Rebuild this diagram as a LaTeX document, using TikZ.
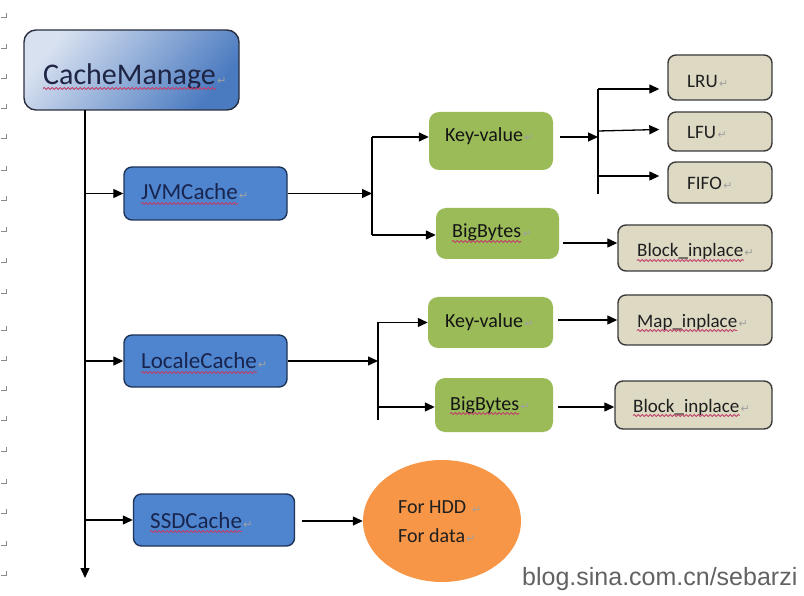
\documentclass[tikz,border=0pt]{standalone}
\usepackage{fontspec}
\setmainfont{Carlito}
\newfontfamily\wmfont{Liberation Sans}
\newfontfamily\symfont{DejaVu Sans}
\usetikzlibrary{arrows.meta,decorations.pathmorphing,shapes.geometric}
\definecolor{cmtop}{HTML}{D8E1F0}
\definecolor{cmbot}{HTML}{4A7AC0}
\definecolor{cmline}{HTML}{2A2F40}
\definecolor{cmtext}{HTML}{1E2444}
\definecolor{bluef}{HTML}{4F84CF}
\definecolor{bluel}{HTML}{1F3458}
\definecolor{bluet}{HTML}{18254F}
\definecolor{greenf}{HTML}{9BBB59}
\definecolor{tanf}{HTML}{DDD9C3}
\definecolor{tanl}{HTML}{3A3A3A}
\definecolor{orangef}{HTML}{F79646}
\definecolor{squigc}{HTML}{C0406A}
\definecolor{retc}{HTML}{A0A0A0}
\definecolor{margc}{HTML}{8A8A8A}
\definecolor{wmc}{HTML}{626262}
\newcommand\plainlbl[4]{\node[txt,#3] (#1) at (#2) {#4};
  \node[retm] (#1r) at ([xshift=1pt]#1.base east) {↵};}
\newcommand\squiglbl[4]{\plainlbl{#1}{#2}{#3}{#4}%
  \draw[squig] ([yshift=-3.5pt]#1.base west) -- ([yshift=-3.5pt]#1.base east);}
\begin{document}
\begin{tikzpicture}[x=1pt,y=-1pt,
  cmbox/.style={draw=cmline, line width=1.4pt, rounded corners=12pt, top color=cmtop, bottom color=cmbot, shading angle=50},
  bluebox/.style={draw=bluel, line width=1.4pt, fill=bluef, rounded corners=8pt},
  greenbox/.style={fill=greenf, rounded corners=10pt},
  tanbox/.style={draw=tanl, line width=1.4pt, fill=tanf, rounded corners=8pt},
  conn/.style={line width=1.3pt, -{Triangle[length=10pt,width=9pt]}},
  plain/.style={line width=1.3pt},
  txt/.style={anchor=base west, inner sep=0pt},
  bluetxt/.style={text=bluet, font=\fontsize{23}{27}\selectfont},
  greentxt/.style={text=black!92, font=\fontsize{20}{24}\selectfont},
  tantxt/.style={text=black!88, font=\fontsize{19}{23}\selectfont},
  orgtxt/.style={text=black!88, font=\fontsize{20}{24}\selectfont},
  squig/.style={draw=squigc, line width=0.8pt, decorate, decoration={snake, amplitude=1.1pt, segment length=4pt}},
  retm/.style={anchor=base west, inner sep=0pt, text=retc, font=\symfont\fontsize{11}{12}\selectfont},
  marg/.style={draw=margc, line width=0.8pt}
]
\useasboundingbox (0,0) rectangle (804,596);
% margin marks
\foreach \yy in {17,48,78,108,138,170,200,231,262,293,330,360,390,420,451,483,513,545,575}
  \draw[marg] (1,\yy) -- (6,\yy) -- (6,\yy-4);

% boxes
\node[cmbox, minimum width=215pt, minimum height=80pt] (cm) at (131.5,70) {};
\node[bluebox, minimum width=163pt, minimum height=53pt] (jvm) at (205.5,193.5) {};
\node[bluebox, minimum width=163pt, minimum height=52pt] (loc) at (205.5,361) {};
\node[bluebox, minimum width=161pt, minimum height=52pt] (ssd) at (214,520) {};
\node[greenbox, minimum width=124pt, minimum height=58pt] (kv1) at (491,141) {};
\node[greenbox, minimum width=123pt, minimum height=51pt] (bb1) at (497.5,233.5) {};
\node[greenbox, minimum width=125pt, minimum height=51pt] (kv2) at (490.5,322.5) {};
\node[greenbox, minimum width=118pt, minimum height=54pt] (bb2) at (494,405) {};
\node[tanbox, minimum width=104pt, minimum height=45pt] (lru) at (720,77.5) {};
\node[tanbox, minimum width=104pt, minimum height=39pt] (lfu) at (720,131.5) {};
\node[tanbox, minimum width=104pt, minimum height=41pt] (fifo) at (720,182.5) {};
\node[tanbox, minimum width=154pt, minimum height=46pt] (blk1) at (695,248) {};
\node[tanbox, minimum width=154pt, minimum height=50pt] (map) at (695,320) {};
\node[tanbox, minimum width=157pt, minimum height=48pt] (blk2) at (693.5,405) {};
\node[ellipse, fill=orangef, inner sep=0pt, minimum width=158pt, minimum height=122pt] (hdd) at (442,521) {};

% labels
\squiglbl{cmt}{43,85}{text=cmtext, font=\fontsize{30}{36}\selectfont}{CacheManage}
\squiglbl{jvmt}{141,200}{bluetxt}{JVMCache}
\squiglbl{loct}{141,369}{bluetxt}{LocaleCache}
\squiglbl{ssdt}{150,528}{bluetxt}{SSDCache}
\plainlbl{kv1t}{445,142}{greentxt}{Key-value}
\squiglbl{bb1t}{452,238}{greentxt}{BigBytes}
\plainlbl{kv2t}{445,327}{greentxt}{Key-value}
\squiglbl{bb2t}{450,410}{greentxt}{BigBytes}
\plainlbl{lrut}{687,88}{tantxt}{LRU}
\plainlbl{lfut}{687,139}{tantxt}{LFU}
\plainlbl{fifot}{687,190}{tantxt}{FIFO}
\squiglbl{blk1t}{637,257}{tantxt}{Block\_inplace}
\squiglbl{mapt}{637,327}{tantxt}{Map\_inplace}
\squiglbl{blk2t}{633,412}{tantxt}{Block\_inplace}
\plainlbl{hdd1}{398,513}{orgtxt}{For HDD\ \ }
\plainlbl{hdd2}{398,542}{orgtxt}{For data}

% main trunk
\coordinate (vtop) at (85,110);
\coordinate (vbot) at (85,578);
\draw[conn] (vtop) -- (vbot);
\coordinate (b1) at (85,193.5);
\coordinate (b2) at (85,361);
\coordinate (b3) at (85,520);
\draw[conn] (b1) -- (b1 -| jvm.west);
\draw[conn] (b2) -- (b2 -| loc.west);
\draw[conn] (b3) -- (b3 -| ssd.west);

% JVMCache branch
\coordinate (j1) at (372,193.5);
\coordinate (j1t) at (372,137);
\coordinate (j1b) at (372,235);
\draw[conn] (jvm.east) -- (j1);
\draw[plain] (j1t) -- (j1b);
\draw[conn] (j1t) -- (j1t -| kv1.west);
\draw[conn] (j1b) -- (j1b -| bb1.west);
\coordinate (a0) at (560,137);
\coordinate (j2) at (598,137);
\coordinate (j2t) at (598,89);
\coordinate (j2m) at (598,131);
\coordinate (j2f) at (598,176);
\coordinate (j2b) at (598,194);
\draw[conn] (a0) -- (j2);
\draw[plain] (j2t) -- (j2b);
\draw[conn, shorten >=8pt] (j2t) -- (j2t -| lru.west);
\draw[conn] (j2m) -- ([xshift=-8pt]lfu.west |- 0,129.5);
\draw[conn, shorten >=8pt] (j2f) -- (j2f -| fifo.west);
\coordinate (a1) at (563,243);
\draw[conn] (a1) -- (a1 -| blk1.west);

% LocaleCache branch
\coordinate (j3) at (378,361);
\coordinate (j3t) at (378,322.5);
\coordinate (j3b) at (378,407);
\draw[conn] (loc.east) -- (j3);
\draw[plain] (j3t) -- (j3b |- 0,420);
\draw[conn] (j3t) -- (j3t -| kv2.west);
\draw[conn] (j3b) -- (j3b -| bb2.west);
\coordinate (a2) at (558,320);
\draw[conn] (a2) -- (a2 -| map.west);
\coordinate (a3) at (558,407);
\draw[conn] (a3) -- (a3 -| blk2.west);

% SSDCache branch
\coordinate (a4) at (302,521);
\draw[conn] (a4) -- (a4 -| hdd.west);

% watermark
\node[anchor=base west, inner sep=0pt, text=wmc, font=\wmfont\fontsize{25}{30}\selectfont] (wm) at (522,585) {blog.sina.com.cn/sebarzi};
\end{tikzpicture}
\end{document}
